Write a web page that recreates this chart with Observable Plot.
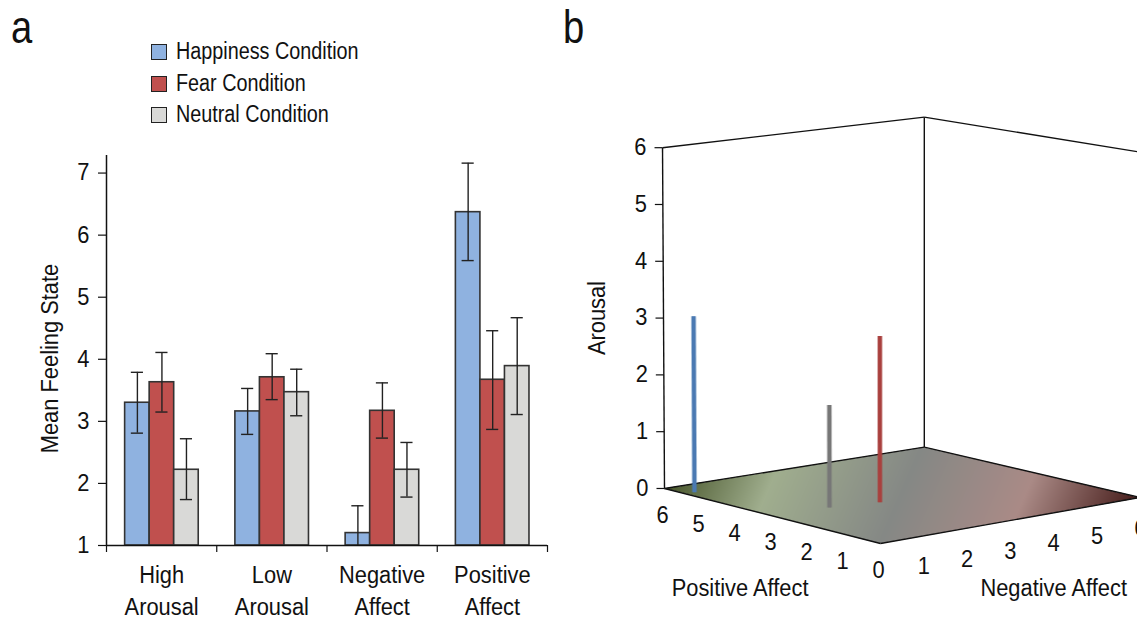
<!DOCTYPE html>
<html><head><meta charset="utf-8">
<script src="https://cdn.jsdelivr.net/npm/d3@7"></script>
<script src="https://cdn.jsdelivr.net/npm/@observablehq/plot@0.6"></script>
<style>
html,body{margin:0;padding:0;background:#fff;overflow:hidden}
#page{position:relative;width:1137px;height:618px;overflow:hidden;font-family:"Liberation Sans",sans-serif;color:#111}
#page svg{position:absolute;top:0;background:transparent}
.letter{position:absolute;font-size:46px;line-height:46px;top:4px;transform:scaleX(.83);transform-origin:left center}
.lg{position:absolute;left:151px;font-size:23px;line-height:24px;white-space:nowrap}
.lg i{position:absolute;left:0;top:3px;width:14px;height:14px;border:1.5px solid #222;display:block}
.lg span{position:absolute;left:25px;top:-2px;transform:scaleX(.86);transform-origin:left center}
</style></head><body><div id="page"></div>
<script>
// Panel a data
const categories = ["High\nArousal", "Low\nArousal", "Negative\nAffect", "Positive\nAffect"];
const conditions = ["Happiness Condition", "Fear Condition", "Neutral Condition"];
const conditionColors = ["#8FB2E0", "#C0504E", "#D9D9D7"];
const happiness = [3.30, 3.16, 1.20, 6.37];
const happinessLow = [2.81, 2.79, 1.00, 5.59];
const happinessHigh = [3.79, 3.53, 1.64, 7.16];
const fear = [3.63, 3.71, 3.17, 3.67];
const fearLow = [3.15, 3.35, 2.73, 2.87];
const fearHigh = [4.11, 4.09, 3.62, 4.46];
const neutral = [2.22, 3.47, 2.22, 3.89];
const neutralLow = [1.74, 3.09, 1.78, 3.11];
const neutralHigh = [2.72, 3.84, 2.66, 4.67];
const yTicks = [1, 2, 3, 4, 5, 6, 7];
const xEdges = [0, 1, 2, 3, 4];

// Panel b data
const bConditions = ["Happiness", "Neutral", "Fear"];
const bPositive = [5.42, 2.92, 2.71];
const bNegative = [0.21, 1.25, 2.24];
const bArousal = [3.09, 1.78, 2.89];
const bColors = ["#4A79B2", "#777777", "#A9403E"];
const cubeTicks = [0, 1, 2, 3, 4, 5, 6];
const floorStops = [-6, -3.4, 0, 3.1, 6];
const floorColors = ["#47552A", "#A0AE8E", "#858885", "#AA8A86", "#451B19"];

const page = document.getElementById("page");
const font = {fontFamily: "'Liberation Sans',sans-serif", fontSize: "23px", color: "#111", background: "transparent"};

// condense real text, as no condensed face is installed
function condense(svg, k) {
  svg.querySelectorAll("text").forEach(t => {
    const spans = t.querySelectorAll("tspan");
    (spans.length ? [...spans] : [t]).forEach(el => {
      const len = el.getComputedTextLength();
      if (len > 0) {
        el.setAttribute("textLength", len * k);
        el.setAttribute("lengthAdjust", "spacingAndGlyphs");
      }
    });
  });
}

// ---------- panel a
const series = [[happiness, happinessLow, happinessHigh], [fear, fearLow, fearHigh], [neutral, neutralLow, neutralHigh]];
const barLead = 0.169, barW = 0.2225, capW = 0.055;
const rows = [];
series.forEach((s, k) => categories.forEach((c, i) => rows.push({
  condition: conditions[k], x1: i + barLead + k * barW, x2: i + barLead + (k + 1) * barW,
  mid: i + barLead + (k + 0.5) * barW, v: s[0][i], lo: s[1][i], hi: s[2][i]
})));
const errHeavy = "#222";
const plotA = Plot.plot({
  width: 570, height: 618, marginLeft: 106, marginRight: 23, marginTop: 155, marginBottom: 73,
  style: font,
  x: {domain: [0, 4]}, y: {domain: [1, 7.283]},
  color: {domain: conditions, range: conditionColors},
  marks: [
    Plot.rectY(rows, {x1: "x1", x2: "x2", y1: 1, y2: "v", fill: "condition", stroke: "#333", strokeWidth: 1.6}),
    Plot.ruleX(rows, {x: "mid", y1: "lo", y2: "hi", stroke: errHeavy, strokeWidth: 1.4}),
    Plot.ruleY(rows, {y: "hi", x1: d => d.mid - capW, x2: d => d.mid + capW, stroke: errHeavy, strokeWidth: 1.4}),
    Plot.ruleY(rows.filter(d => d.lo > 1), {y: "lo", x1: d => d.mid - capW, x2: d => d.mid + capW, stroke: errHeavy, strokeWidth: 1.4}),
    Plot.ruleX([0], {y1: 1, y2: 7.283, stroke: "#111", strokeWidth: 1.5}),
    Plot.ruleY([1], {x1: 0, x2: 4, stroke: "#111", strokeWidth: 1.5}),
    Plot.axisY({ticks: yTicks, tickSize: 8, tickPadding: 9, tickFormat: d => String(d), label: null, stroke: "#111", strokeWidth: 1.2, fill: "#111"}),
    Plot.axisX({ticks: xEdges, tickSize: 7, tickFormat: () => "", label: null, stroke: "#111", strokeWidth: 1.2}),
    Plot.text(categories, {x: (d, i) => i + 0.5, y: 1, text: d => d, dy: 15, lineAnchor: "top", lineHeight: 1.39, fill: "#111"}),
    Plot.text(["Mean Feeling State"], {frameAnchor: "left", textAnchor: "middle", dx: -56, dy: 8, rotate: -90, fill: "#111"})
  ]
});
plotA.style.left = "0px";
page.append(plotA);
condense(plotA, 0.95);

conditions.forEach((c, k) => {
  const d = document.createElement("div");
  d.className = "lg";
  d.style.top = (41 + k * 31.5) + "px";
  const sw = document.createElement("i");
  sw.style.background = conditionColors[k];
  const t = document.createElement("span");
  t.textContent = c;
  d.append(sw, t);
  page.append(d);
});
[["a", 11], ["b", 563]].forEach(([t, x]) => {
  const d = document.createElement("div");
  d.className = "letter"; d.textContent = t; d.style.left = x + "px";
  page.append(d);
});

// ---------- panel b: oblique projection of (positive, negative, arousal)
const heightPerUnit = (p, n) => 59.3 - 0.417 * p - 0.3 * n;
const sx = (p, n, a = 0) => -36 * p + 43.3 * n - a * 0.055 * (p - n);
const sy = (p, n, a = 0) => 9.17 * p + 7.67 * n - 0.13 * p * n + a * heightPerUnit(p, n);
const xDomain = [-320, 257], yDomain = [-75, 543];
const corners = [[0, 0], [6, 0], [6, 6], [0, 6]];
const cornerPolygon = corners.map(([p, n]) => [sx(p, n), sy(p, n)]);
const floorDiff = (x, y) => {
  if (!d3.polygonContains(cornerPolygon, [x, y])) return NaN;
  const det = 36 * 7.67 + 43.3 * 9.17;
  const p = (-x * 7.67 + 43.3 * y) / det;
  const n = (36 * y + 9.17 * x) / det;
  return n - p;
};
const edges = [
  [[0,0,0],[6,0,0]], [[0,0,0],[0,6,0]], [[6,0,0],[6,6,0]], [[0,6,0],[6,6,0]],
  [[6,0,0],[6,0,6]], [[6,6,0],[6,6,6]], [[0,6,0],[0,6,6]], [[6,0,6],[6,6,6]], [[0,6,6],[6,6,6]]
];
const linkOpts = (o) => ({
  x1: d => sx(...d[0]), y1: d => sy(...d[0]), x2: d => sx(...d[1]), y2: d => sy(...d[1]), ...o
});
const barRows = bConditions.map((c, i) => [[bPositive[i], bNegative[i], 0], [bPositive[i], bNegative[i], bArousal[i]], bColors[i]]);
const plotB = Plot.plot({
  width: 577, height: 618, margin: 0,
  style: font,
  x: {domain: xDomain, axis: null}, y: {domain: yDomain, axis: null},
  color: {type: "linear", domain: floorStops, range: floorColors, interpolate: "rgb"},
  marks: [
    Plot.raster({x1: xDomain[0], x2: xDomain[1], y1: yDomain[0], y2: yDomain[1], width: 577, height: 618, fill: floorDiff, interpolate: "none"}),
    Plot.link(edges, linkOpts({stroke: "#111", strokeWidth: 1.4})),
    Plot.link(barRows, linkOpts({stroke: d => d[2], strokeOpacity: 0.45, strokeWidth: 5.5})),
    Plot.link(barRows, linkOpts({stroke: d => d[2], strokeWidth: 3.6})),
    Plot.link(cubeTicks, {x1: d => sx(6, 0, d), y1: d => sy(6, 0, d), x2: d => sx(6, 0, d) - 8, y2: d => sy(6, 0, d), stroke: "#111", strokeWidth: 1.2}),
    Plot.text(cubeTicks, {x: d => sx(6, 0, d), y: d => sy(6, 0, d), text: d => String(d), dx: -16, textAnchor: "end", fill: "#111"}),
    Plot.text(cubeTicks, {x: d => sx(d, 0), y: d => sy(d, 0), text: d => String(d), dx: -2, dy: 27, fill: "#111"}),
    Plot.text(cubeTicks.slice(1), {x: d => sx(0, d), y: d => sy(0, d), text: d => String(d), dy: 31, fill: "#111"}),
    Plot.text(["Positive Affect"], {x: sx(3.9, 0), y: sy(3.9, 0), dy: 81, fill: "#111"}),
    Plot.text(["Negative Affect"], {x: sx(0, 4), y: sy(0, 4), dy: 76, fill: "#111"}),
    Plot.text(["Arousal"], {x: sx(6, 0, 3), y: sy(6, 0, 3), dx: -66, rotate: -90, fill: "#111"})
  ]
});
plotB.style.left = "560px";
page.append(plotB);
condense(plotB, 0.95);
</script></body></html>
